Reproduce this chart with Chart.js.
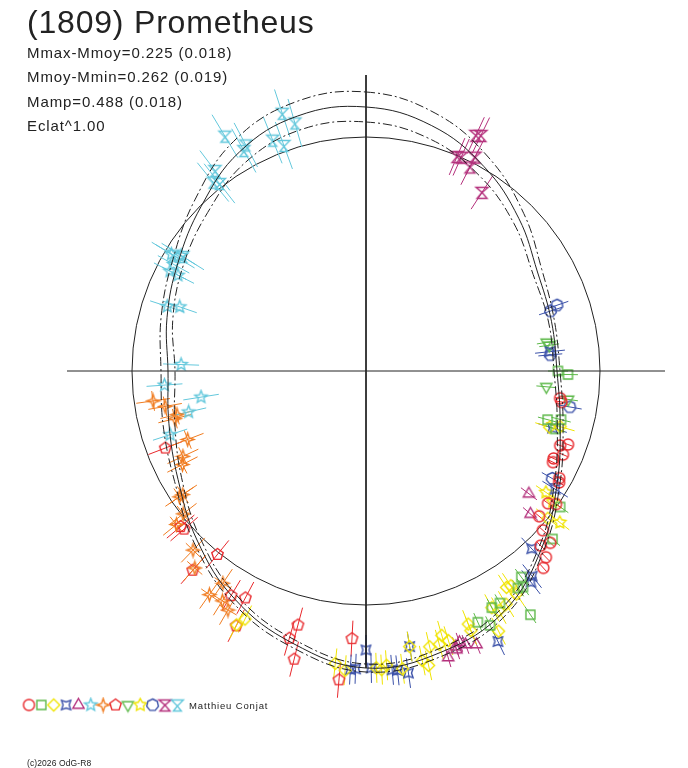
<!DOCTYPE html>
<html>
<head>
<meta charset="utf-8">
<script src="https://cdn.jsdelivr.net/npm/chart.js@4.4.1/dist/chart.umd.min.js"></script>
<style>
    body { margin: 0; background: #fff; }
    #wrap { position: relative; width: 688px; height: 768px; }
    .t { position: absolute; left: 27px; font-family: "Liberation Sans", Arial, sans-serif; color: #222; white-space: nowrap; line-height: 1; }
    .sub { font-size: 15px; letter-spacing: 0.9px; }
</style>
</head>
<body>
<div id="wrap">
    <canvas id="chart"></canvas>
    <div class="t" style="top:6px;font-size:32px;letter-spacing:0.8px">(1809) Prometheus</div>
    <div class="t sub" style="top:45px">Mmax-Mmoy=0.225 (0.018)</div>
    <div class="t sub" style="top:69px">Mmoy-Mmin=0.262 (0.019)</div>
    <div class="t sub" style="top:94px">Mamp=0.488 (0.018)</div>
    <div class="t sub" style="top:118px">Eclat^1.00</div>
    <div class="t" style="top:701px;left:189px;font-size:9.5px;letter-spacing:0.85px">Matthieu Conjat</div>
    <div class="t" style="top:759px;font-size:8.5px;letter-spacing:0.1px">(c)2026 OdG-R8</div>
</div>
<script>
// rayon du cercle de reference (magnitude moyenne)
const refR = 234;
const axisHalfX = 299;
const axisTop = 296, axisBottom = -297;

// courbe de Fourier : phase (deg), rayon, incertitude
const fitPhase = [0, 15, 30, 45, 60, 75, 90, 105, 120, 135, 150, 165, 180, 195, 210, 225, 240, 255, 270, 285, 300, 315, 330, 345];
const fitR = [264, 254, 236, 216, 198, 192, 191, 201, 221, 249, 277, 291, 297, 282, 263, 239, 217, 204, 198, 206, 217, 233, 253, 264];
const fitErr = [15, 13, 10, 7, 5, 3, 3, 3, 3, 3, 4, 4, 4, 4, 4, 4, 4, 6, 7, 6, 6, 9, 12, 14];

// sessions : [phase (deg), rayon]
const s01 = [[98,196],[99,198],[110,215],[111,208],[113,214],[115,207],[116,208],[119,221],[120,223],[126,225],[125,232],[130,226],[132,238],[133,252],[135,247],[136,259],[138,265]];
const s02 = [[90,192],[91,202],[105,188],[104,201],[107,198],[125,237],[132,251],[143,258],[144,267],[145,265],[150,268],[152,268],[156,275],[146,294],[154,283]];
const s03 = [[207,285],[206,276],[186,294],[184,300],[177,299],[176,295],[178,297],[173,300],[171,279],[169,295],[168,301],[167,283],[165,283],[164,275],[163,282],[158,273],[158,280],[152,268],[151,274],[149,272],[146,259],[146,269],[153,292],[107,192],[106,202],[129,234],[147,258]];
const s04 = [[180,279],[179,297],[175,300],[174,301],[171,279],[172,305],[154,301],[137,243],[141,264],[142,268],[122,223],[84,185],[107,195],[183,299],[182,298]];
const s05 = [[127,204],[131,218],[164,298],[162,290],[160,291],[158,295],[161,287],[162,293]];
const s06 = [[301,227],[302,218],[299,220],[297,220],[297,211],[288,209],[289,197],[272,185],[266,202],[261,167],[257,182],[252,206]];
const s07 = [[262,215],[260,204],[257,194],[256,197],[249,191],[245,202],[243,206],[236,225],[232,232],[231,244],[224,249],[221,261],[215,273],[214,256],[212,271],[210,276],[236,221]];
const s08 = [[249,215],[230,242],[219,236],[221,264],[211,262],[208,257],[229,241],[207,286],[195,263],[196,278],[194,297],[183,268],[185,310]];
const s09 = [[81,183],[95,181],[98,204],[82,185]];
const s10 = [[124,217],[128,246],[125,228]];
const s11 = [[72,194],[71,202],[85,185],[100,207],[120,215]];
const s12 = [[25,260],[24,234],[27,240],[27,229],[33,213],[26,262],[23,233]];
const s13 = [[342,271],[344,258],[338,249],[340,240],[329,274],[332,256],[331,252],[323,251],[321,243],[322,238],[301,225],[302,216]];

const sessions = [s01, s02, s03, s04, s05, s06, s07, s08, s09, s10, s11, s12, s13];
const colors = ['#e8282c', '#5cb848', '#f0e400', '#3a50a8', '#b4307c', '#64c8dc', '#f07c20', '#e8282c', '#5cb848', '#f0e400', '#3a50a8', '#b4307c', '#64c8dc'];
const shapes = ['circle', 'square', 'diamond', 'star4x', 'triangle', 'star5', 'star4', 'pentagon', 'triDown', 'star5b', 'hepta', 'glassUp', 'glassDown'];
// demi-longueur des barres d'erreur (radiale, tangentielle)
const errRad = [5, 10, 15, 15, 10, 18, 17, 18, 10, 12, 12, 20, 25];
const errTan = [0, 0, 0, 0, 0, 0, 10, 0, 0, 0, 0, 0, 0];

function toXY(deg, r) {
    const a = deg * Math.PI / 180;
    return { x: r * Math.sin(a), y: r * Math.cos(a) };
}

function polyPath(ctx, c, n, r, rot) {
    ctx.beginPath();
    for (let i = 0; i < n; i++) {
        const a = rot + i * 2 * Math.PI / n;
        const px = c + r * Math.cos(a), py = c + r * Math.sin(a);
        i ? ctx.lineTo(px, py) : ctx.moveTo(px, py);
    }
    ctx.closePath();
}

function starPath(ctx, c, n, ro, ri, rot) {
    ctx.beginPath();
    for (let i = 0; i < 2 * n; i++) {
        const a = rot + i * Math.PI / n;
        const r = i % 2 ? ri : ro;
        const px = c + r * Math.cos(a), py = c + r * Math.sin(a);
        i ? ctx.lineTo(px, py) : ctx.moveTo(px, py);
    }
    ctx.closePath();
}

function makeMarker(shape, color) {
    const cv = document.createElement('canvas');
    cv.width = 17; cv.height = 17;
    const ctx = cv.getContext('2d');
    const c = 8.5;
    ctx.strokeStyle = color;
    ctx.lineWidth = 1.4;
    const up = -Math.PI / 2;
    switch (shape) {
        case 'circle': ctx.beginPath(); ctx.arc(c, c, 5.5, 0, 2 * Math.PI); break;
        case 'square': ctx.beginPath(); ctx.rect(c - 4.5, c - 4.5, 9, 9); break;
        case 'diamond': polyPath(ctx, c, 4, 6, up); break;
        case 'star4x': starPath(ctx, c, 4, 6.5, 3, -Math.PI / 4); break;
        case 'triangle': polyPath(ctx, c, 3, 6.5, up); break;
        case 'star5': starPath(ctx, c, 5, 6.5, 2.8, up); break;
        case 'star4': starPath(ctx, c, 4, 6.5, 2.3, up); break;
        case 'pentagon': polyPath(ctx, c, 5, 6, up); break;
        case 'triDown': polyPath(ctx, c, 3, 6.5, Math.PI / 2); break;
        case 'star5b': starPath(ctx, c, 5, 6.5, 3.4, up); break;
        case 'hepta': polyPath(ctx, c, 7, 6, up); break;
        case 'glassUp':
            ctx.beginPath();
            ctx.moveTo(c - 6, c - 5); ctx.lineTo(c + 6, c - 5); ctx.lineTo(c, c);
            ctx.closePath();
            ctx.moveTo(c, c); ctx.lineTo(c - 5, c + 6); ctx.lineTo(c + 5, c + 6); ctx.closePath();
            break;
        case 'glassDown':
            ctx.beginPath();
            ctx.moveTo(c - 6, c - 5); ctx.lineTo(c + 6, c - 5); ctx.lineTo(c, c + 1);
            ctx.closePath();
            ctx.moveTo(c, c + 1); ctx.lineTo(c - 4, c + 6); ctx.lineTo(c + 4, c + 6); ctx.closePath();
            break;
    }
    ctx.stroke();
    return cv;
}

const markers = shapes.map((s, i) => makeMarker(s, colors[i]));

const lineStyle = { showLine: true, pointRadius: 0, borderWidth: 1, borderColor: '#222', fill: false };

const datasets = [];

// axes
datasets.push({ ...lineStyle, order: 1, data: [{ x: -axisHalfX, y: 0 }, { x: axisHalfX, y: 0 }] });
datasets.push({ ...lineStyle, order: 1, data: [{ x: 0, y: axisTop }, { x: 0, y: axisBottom }] });

// courbe + enveloppe (courbes fermees)
const loopStyle = { ...lineStyle, order: 1, tension: 0.4, spanGaps: true, closed: true };
datasets.push({ ...loopStyle, data: fitPhase.map((p, i) => toXY(p, fitR[i])) });
datasets.push({ ...loopStyle, borderDash: [9, 3, 2, 3], data: fitPhase.map((p, i) => toXY(p, fitR[i] + fitErr[i])) });
datasets.push({ ...loopStyle, borderDash: [9, 3, 2, 3], data: fitPhase.map((p, i) => toXY(p, fitR[i] - fitErr[i])) });

sessions.forEach((pts, k) => {
    // barres d'erreur
    const bars = [];
    pts.forEach(([ph, r]) => {
        bars.push(toXY(ph, r - errRad[k]), toXY(ph, r + errRad[k]), { x: null, y: null });
        if (errTan[k]) {
            const c = toXY(ph, r);
            const a = ph * Math.PI / 180;
            const tx = Math.cos(a) * errTan[k], ty = -Math.sin(a) * errTan[k];
            bars.push({ x: c.x - tx, y: c.y - ty }, { x: c.x + tx, y: c.y + ty }, { x: null, y: null });
        }
    });
    datasets.push({ showLine: true, spanGaps: false, pointRadius: 0, borderWidth: 1, borderColor: colors[k], order: 3, data: bars });
    // marqueurs
    datasets.push({
        showLine: false, order: 2,
        pointStyle: markers[k], pointRadius: 6,
        data: pts.map(([ph, r]) => toXY(ph, r))
    });
});

const extras = {
    id: 'extras',
    // ferme les courbes de Fourier (spline en boucle)
    afterDatasetUpdate(chart, args) {
        const ds = chart.data.datasets[args.index];
        const line = args.meta.dataset;
        if (ds.closed && line) {
            line._loop = true;
            line._fullLoop = true;
            line._pointsUpdated = false;
            delete line._segments;
            delete line._path;
        }
    },
    beforeDatasetsDraw(chart) {
        const { ctx, scales: { x, y } } = chart;
        const cx = x.getPixelForValue(0), cy = y.getPixelForValue(0);
        const rr = x.getPixelForValue(refR) - cx;
        ctx.save();
        ctx.strokeStyle = '#222';
        ctx.lineWidth = 1;
        ctx.beginPath();
        ctx.arc(cx, cy, rr, 0, 2 * Math.PI);
        ctx.stroke();
        ctx.restore();
    },
    afterDraw(chart) {
        const ctx = chart.ctx;
        markers.forEach((m, i) => {
            ctx.drawImage(m, 29 + i * 12.36 - 8.5, 705 - 8.5);
        });
    }
};

new Chart(document.getElementById('chart'), {
    type: 'scatter',
    data: { datasets },
    options: {
        responsive: true,
        maintainAspectRatio: false,
        animation: false,
        events: [],
        layout: { padding: 0, autoPadding: false },
        plugins: { legend: { display: false }, tooltip: { enabled: false } },
        scales: {
            x: { type: 'linear', display: false, min: -366, max: 322 },
            y: { type: 'linear', display: false, min: -397, max: 371 }
        }
    },
    plugins: [extras]
});
</script>
</body>
</html>
